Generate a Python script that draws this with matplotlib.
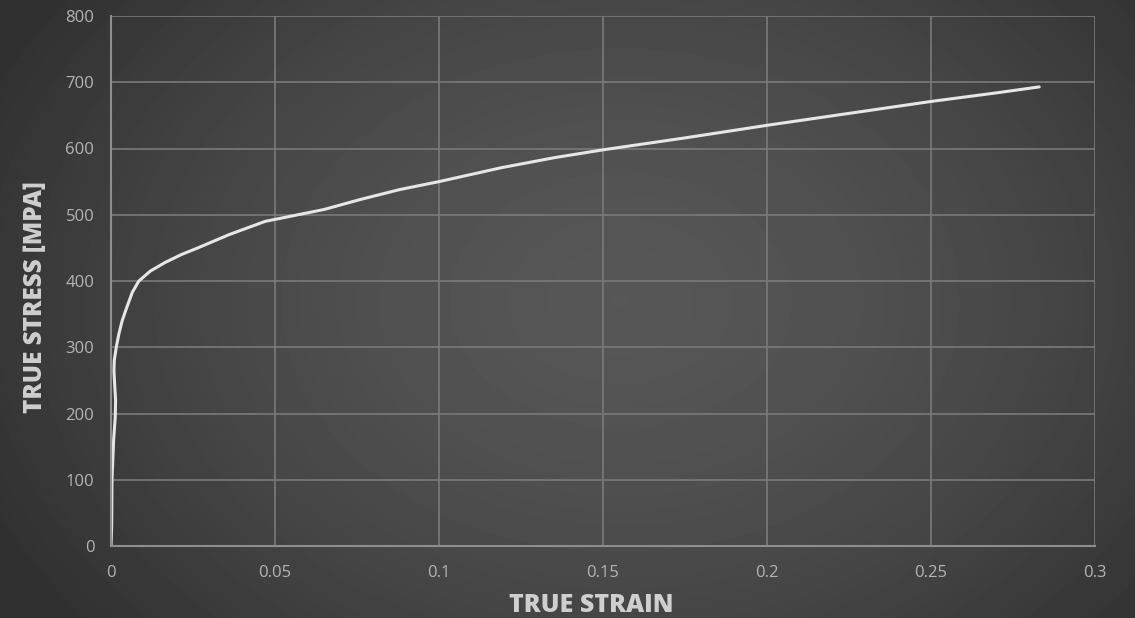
import numpy as np
import matplotlib.pyplot as plt

# true stress-strain curve
strain = [0.0, 0.0002, 0.0003, 0.0008, 0.0013, 0.0014, 0.0011, 0.0009, 0.0010,
          0.0016, 0.0024, 0.0034, 0.0048, 0.0065, 0.0085, 0.0120, 0.0165, 0.0215,
          0.0265, 0.0360, 0.0470, 0.0550, 0.0650, 0.0760, 0.0880, 0.1000, 0.1190,
          0.1350, 0.1500, 0.1750, 0.2000, 0.2250, 0.2500, 0.2700, 0.2830]
stress = [0, 30, 100, 160, 195, 220, 245, 265, 280,
          300, 320, 340, 360, 383, 400, 415, 428, 440,
          450, 470, 490, 498, 508, 523, 538, 550, 571,
          586, 598, 616, 635, 653, 671, 684, 693]

x_ticks = [0, 0.05, 0.1, 0.15, 0.2, 0.25, 0.3]
x_tick_labels = ['0', '0.05', '0.1', '0.15', '0.2', '0.25', '0.3']
y_ticks = [0, 100, 200, 300, 400, 500, 600, 700, 800]

plt.rcParams['font.family'] = ['Open Sans', 'DejaVu Sans']

fig = plt.figure(figsize=(11.35, 6.18), dpi=100)

# radial gray background
bg = fig.add_axes([0, 0, 1, 1], zorder=-1)
h, w = 618, 1135
yy, xx = np.mgrid[0:h, 0:w]
r = np.sqrt(((xx - 620) / 700.0) ** 2 + ((yy - 300) / 520.0) ** 2)
shade = 0.34 - 0.15 * np.clip(r, 0, 1) ** 1.6
bg.imshow(shade, cmap='gray', vmin=0, vmax=1, aspect='auto', interpolation='bilinear')
bg.axis('off')

ax = fig.add_axes([111 / 1135, 1 - 546 / 618, 984 / 1135, 530 / 618])
ax.set_facecolor('none')
ax.plot(strain, stress, color='#e6e6e6', linewidth=2.2, solid_capstyle='round',
        solid_joinstyle='round')

ax.set_xlim(0, 0.3)
ax.set_ylim(0, 800)
ax.set_xticks(x_ticks)
ax.set_xticklabels(x_tick_labels)
ax.set_yticks(y_ticks)
ax.grid(True, color='#7a7a7a', linewidth=1.2)
ax.set_axisbelow(True)
for side in ['top', 'right']:
    ax.spines[side].set_visible(False)
for side in ['left', 'bottom']:
    ax.spines[side].set_color('#8e8e8e')
    ax.spines[side].set_linewidth(1.5)
ax.tick_params(length=0, colors='#b4b4b4', labelsize=12)
ax.tick_params(axis='x', pad=14)
ax.tick_params(axis='y', pad=12)

ax.set_xlabel('TRUE STRAIN', fontsize=18, fontweight='heavy', color='#cfcfcf')
ax.set_ylabel('TRUE STRESS [MPA]', fontsize=17.5, fontweight='heavy', color='#cfcfcf')
ax.xaxis.set_label_coords(0.488, -0.088)
ax.yaxis.set_label_coords(-0.064, 0.47)

fig.savefig('out.png', dpi=100)
